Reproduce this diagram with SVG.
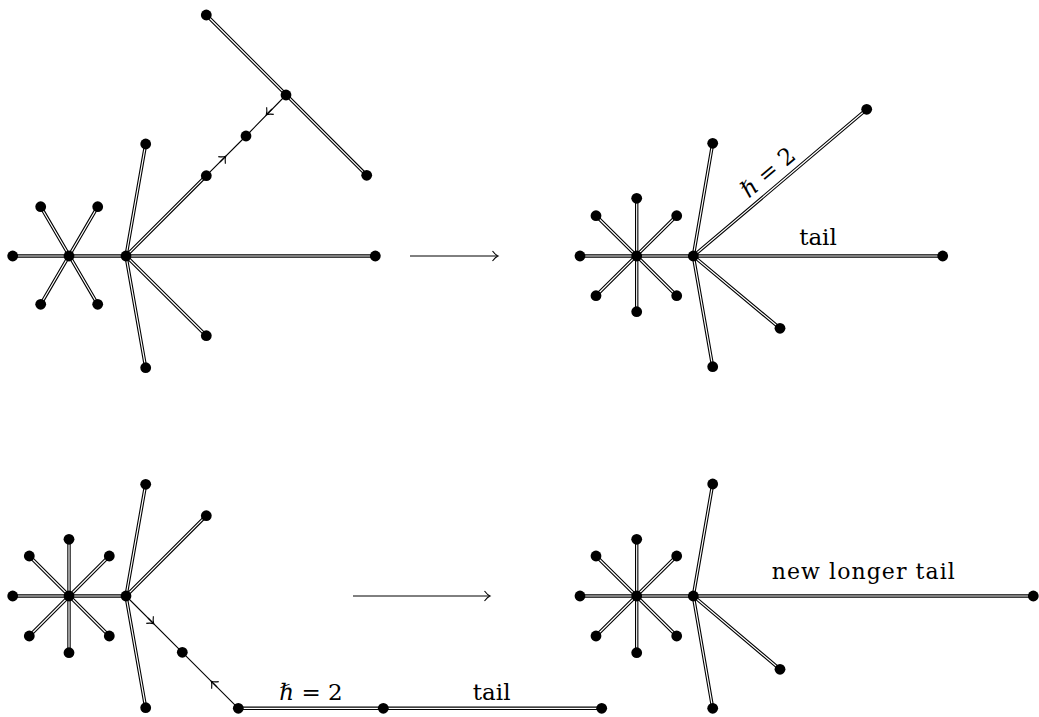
<svg xmlns="http://www.w3.org/2000/svg" width="1039" height="717" viewBox="0 0 1039 717">
<style>
.o{fill:none;stroke:#000;stroke-width:3.4}
.i{fill:none;stroke:#fff;stroke-width:1.2}
.s{fill:none;stroke:#000;stroke-width:1.1}
.t{fill:none;stroke:#000;stroke-width:1}
.n{fill:#000}
.lbl{font-family:"DejaVu Serif","Liberation Serif",serif;font-size:23px;fill:#000;text-anchor:middle}
.lbl2{font-family:"DejaVu Serif","Liberation Serif",serif;font-size:22px;fill:#000;text-anchor:middle}
</style>
<defs>
<marker id="to" viewBox="-6 -6 12 12" markerWidth="12" markerHeight="12" markerUnits="userSpaceOnUse" orient="auto" refX="0" refY="0">
<path d="M-4.5,-5 Q-1.5,-1.1 1,0 Q-1.5,1.1 -4.5,5" fill="none" stroke="#000" stroke-width="1.1"/>
</marker>
</defs>
<rect width="1039" height="717" fill="#fff"/>
<g id="connectors">
<g id="double-outer" class="o">
<path d="M12.7,256 H126 M40.7,206.7 L97.7,304.3 M97.7,206.7 L40.7,304.3 M126,256 L145.7,144 M126,256 L145.7,367.7 M126,256 L206.3,335.7 M126,256 L206.3,175.7 M126,256 L375.3,256 M206.3,15 L366.7,175.3"/>
<path d="M580,256 H693.3 M636.7,198.3 V311.7 M596,215.7 L676.7,295.7 M676.7,215.7 L596,295.7 M693.3,256 L712.7,143.3 M693.3,256 L712.7,366.7 M693.3,256 L780,328.3 M693.3,256 L866.7,109.3 M693.3,256 L942.7,256"/>
<path d="M12.7,596 H126 M69,539.3 V652.7 M29.3,556 L109.3,636 M109.3,556 L29.3,636 M126,596 L145.7,484.3 M126,596 L145.7,707.7 M126,596 L206.3,515.7 M238.3,708.3 H601.7"/>
<path d="M580,596 H693.3 M636.7,539.3 V652.7 M596,556 L676.7,636 M676.7,556 L596,636 M693.3,596 L712.7,484 M693.3,596 L712.7,708.3 M693.3,596 L780,669.3 M693.3,596 L1033.3,596"/>
</g>
<g id="double-inner" class="i">
<path d="M12.7,256 H126 M40.7,206.7 L97.7,304.3 M97.7,206.7 L40.7,304.3 M126,256 L145.7,144 M126,256 L145.7,367.7 M126,256 L206.3,335.7 M126,256 L206.3,175.7 M126,256 L375.3,256 M206.3,15 L366.7,175.3"/>
<path d="M580,256 H693.3 M636.7,198.3 V311.7 M596,215.7 L676.7,295.7 M676.7,215.7 L596,295.7 M693.3,256 L712.7,143.3 M693.3,256 L712.7,366.7 M693.3,256 L780,328.3 M693.3,256 L866.7,109.3 M693.3,256 L942.7,256"/>
<path d="M12.7,596 H126 M69,539.3 V652.7 M29.3,556 L109.3,636 M109.3,556 L29.3,636 M126,596 L145.7,484.3 M126,596 L145.7,707.7 M126,596 L206.3,515.7 M238.3,708.3 H601.7"/>
<path d="M580,596 H693.3 M636.7,539.3 V652.7 M596,556 L676.7,636 M676.7,556 L596,636 M693.3,596 L712.7,484 M693.3,596 L712.7,708.3 M693.3,596 L780,669.3 M693.3,596 L1033.3,596"/>
</g>
<g id="single-edges" class="s">
<path d="M206.3,175.7 L246,136 L286,95"/>
<path d="M220,162 L225,157" marker-end="url(#to)"/>
<path d="M272,109 L267,114" marker-end="url(#to)"/>
<path d="M126,596 L182.3,652.3 L238.3,708.3"/>
<path d="M148,618 L153,623" marker-end="url(#to)"/>
<path d="M217,687 L212,682" marker-end="url(#to)"/>
</g>
<g id="maps-to" class="t">
<path d="M410,256 H497" marker-end="url(#to)"/>
<path d="M353,596 H489" marker-end="url(#to)"/>
</g>
</g>
<g id="labels">
<text class="lbl" transform="translate(693.3,256) rotate(-40.2)" x="111" y="-8"><tspan font-style="italic">ℏ</tspan> = 2</text>
<text class="lbl" x="818" y="245">tail</text>
<text class="lbl" x="311" y="700"><tspan font-style="italic">ℏ</tspan> = 2</text>
<text class="lbl" x="491.7" y="700">tail</text>
<text class="lbl2" x="863.3" y="579" textLength="183" lengthAdjust="spacing">new longer tail</text>
</g>
<g id="nodes" class="n">
<g id="tl-left"><circle cx="12.7" cy="256" r="5.4"/></g>
<g id="tl-hub1"><circle cx="69" cy="256" r="5.4"/></g>
<g id="tl-h1-ul"><circle cx="40.7" cy="206.7" r="5.4"/></g>
<g id="tl-h1-ur"><circle cx="97.7" cy="206.7" r="5.4"/></g>
<g id="tl-h1-dl"><circle cx="40.7" cy="304.3" r="5.4"/></g>
<g id="tl-h1-dr"><circle cx="97.7" cy="304.3" r="5.4"/></g>
<g id="tl-hub2"><circle cx="126" cy="256" r="5.4"/></g>
<g id="tl-h2-up"><circle cx="145.7" cy="144" r="5.4"/></g>
<g id="tl-h2-down"><circle cx="145.7" cy="367.7" r="5.4"/></g>
<g id="tl-h2-dr"><circle cx="206.3" cy="335.7" r="5.4"/></g>
<g id="tl-h2-ur"><circle cx="206.3" cy="175.7" r="5.4"/></g>
<g id="tl-right"><circle cx="375.3" cy="256" r="5.4"/></g>
<g id="tl-mid"><circle cx="246" cy="136" r="5.4"/></g>
<g id="tl-top-hub"><circle cx="286" cy="95" r="5.4"/></g>
<g id="tl-top-a"><circle cx="206.3" cy="15" r="5.4"/></g>
<g id="tl-top-b"><circle cx="366.7" cy="175.3" r="5.4"/></g>

<g id="tr-left"><circle cx="580" cy="256" r="5.4"/></g>
<g id="tr-hub1"><circle cx="636.7" cy="256" r="5.4"/></g>
<g id="tr-h1-up"><circle cx="636.7" cy="198.3" r="5.4"/></g>
<g id="tr-h1-down"><circle cx="636.7" cy="311.7" r="5.4"/></g>
<g id="tr-h1-ul"><circle cx="596" cy="215.7" r="5.4"/></g>
<g id="tr-h1-ur"><circle cx="676.7" cy="215.7" r="5.4"/></g>
<g id="tr-h1-dl"><circle cx="596" cy="295.7" r="5.4"/></g>
<g id="tr-h1-dr"><circle cx="676.7" cy="295.7" r="5.4"/></g>
<g id="tr-hub2"><circle cx="693.3" cy="256" r="5.4"/></g>
<g id="tr-h2-up"><circle cx="712.7" cy="143.3" r="5.4"/></g>
<g id="tr-h2-down"><circle cx="712.7" cy="366.7" r="5.4"/></g>
<g id="tr-h2-dr"><circle cx="780" cy="328.3" r="5.4"/></g>
<g id="tr-h2-ur"><circle cx="866.7" cy="109.3" r="5.4"/></g>
<g id="tr-right"><circle cx="942.7" cy="256" r="5.4"/></g>

<g id="bl-left"><circle cx="12.7" cy="596" r="5.4"/></g>
<g id="bl-hub1"><circle cx="69" cy="596" r="5.4"/></g>
<g id="bl-h1-up"><circle cx="69" cy="539.3" r="5.4"/></g>
<g id="bl-h1-down"><circle cx="69" cy="652.7" r="5.4"/></g>
<g id="bl-h1-ul"><circle cx="29.3" cy="556" r="5.4"/></g>
<g id="bl-h1-ur"><circle cx="109.3" cy="556" r="5.4"/></g>
<g id="bl-h1-dl"><circle cx="29.3" cy="636" r="5.4"/></g>
<g id="bl-h1-dr"><circle cx="109.3" cy="636" r="5.4"/></g>
<g id="bl-hub2"><circle cx="126" cy="596" r="5.4"/></g>
<g id="bl-h2-up"><circle cx="145.7" cy="484.3" r="5.4"/></g>
<g id="bl-h2-down"><circle cx="145.7" cy="707.7" r="5.4"/></g>
<g id="bl-h2-ur"><circle cx="206.3" cy="515.7" r="5.4"/></g>
<g id="bl-mid"><circle cx="182.3" cy="652.3" r="5.4"/></g>
<g id="bl-tail-start"><circle cx="238.3" cy="708.3" r="5.4"/></g>
<g id="bl-tail-mid"><circle cx="383.3" cy="708.3" r="5.4"/></g>
<g id="bl-tail-end"><circle cx="601.7" cy="708.3" r="5.4"/></g>

<g id="br-left"><circle cx="580" cy="596" r="5.4"/></g>
<g id="br-hub1"><circle cx="636.7" cy="596" r="5.4"/></g>
<g id="br-h1-up"><circle cx="636.7" cy="539.3" r="5.4"/></g>
<g id="br-h1-down"><circle cx="636.7" cy="652.7" r="5.4"/></g>
<g id="br-h1-ul"><circle cx="596" cy="556" r="5.4"/></g>
<g id="br-h1-ur"><circle cx="676.7" cy="556" r="5.4"/></g>
<g id="br-h1-dl"><circle cx="596" cy="636" r="5.4"/></g>
<g id="br-h1-dr"><circle cx="676.7" cy="636" r="5.4"/></g>
<g id="br-hub2"><circle cx="693.3" cy="596" r="5.4"/></g>
<g id="br-h2-up"><circle cx="712.7" cy="484" r="5.4"/></g>
<g id="br-h2-down"><circle cx="712.7" cy="708.3" r="5.4"/></g>
<g id="br-h2-dr"><circle cx="780" cy="669.3" r="5.4"/></g>
<g id="br-right"><circle cx="1033.3" cy="596" r="5.4"/></g>
</g>
</svg>
